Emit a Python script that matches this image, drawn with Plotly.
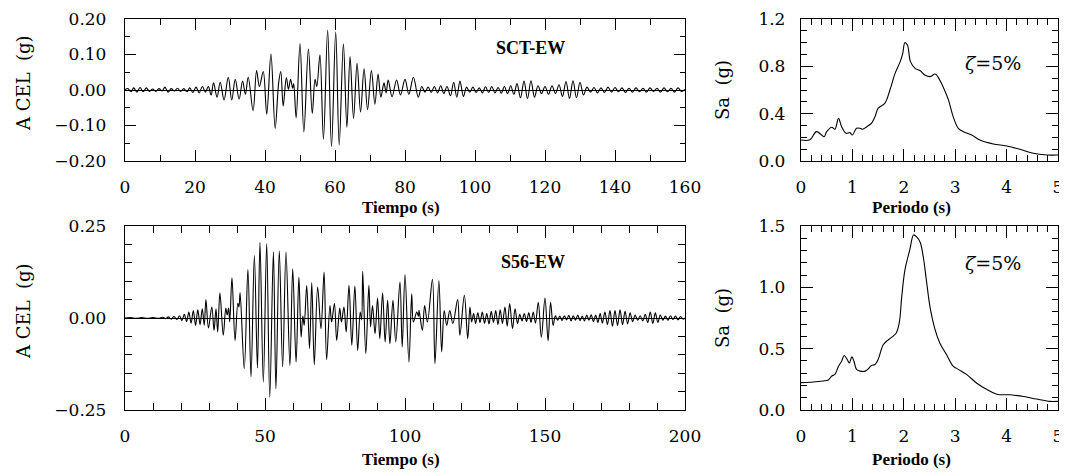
import plotly.graph_objects as go

# ---------------- data ----------------
# SCT-EW acceleration history (time s, accel g) (extrema)
sct_t = [0.0, 0.8, 1.7, 2.5, 3.4, 4.3, 5.2, 6.1, 7.0, 7.9, 8.8, 9.7, 10.6, 11.4, 12.3, 13.2, 14.1, 15.0,
         15.9, 16.8, 17.7, 18.5, 19.4, 20.3, 21.2, 22.1, 23.0, 23.8, 24.6, 25.3, 26.3, 27.2, 28.3, 29.5,
         30.5, 31.5, 32.6, 33.6, 34.4, 35.2, 36.6, 37.6, 38.4, 39.5, 40.5, 41.7, 42.9, 43.9, 44.5, 45.2,
         46.1, 46.7, 47.3, 47.9, 48.2, 48.9, 50.0, 51.1, 52.4, 53.5, 54.3, 54.8, 55.7, 56.7, 57.9, 59.0,
         60.2, 61.2, 62.4, 63.4, 64.3, 65.3, 66.3, 67.3, 68.3, 69.3, 70.4, 71.4, 72.3, 73.1, 74.0, 74.6,
         75.2, 76.3, 77.6, 78.7, 80.0, 81.1, 82.4, 83.8, 84.8, 85.7, 86.6, 87.5, 88.4, 89.3, 90.2, 91.1,
         92.0, 93.0, 93.9, 94.8, 95.7, 96.7, 97.6, 98.5, 99.4, 100.3, 101.2, 102.1, 103.0, 103.9, 104.8,
         105.7, 106.6, 107.5, 108.4, 109.3, 110.2, 111.1, 112.0, 113.0, 114.0, 115.0, 116.0, 117.0, 118.0,
         119.0, 120.0, 121.0, 122.0, 123.0, 124.0, 125.0, 126.0, 127.0, 128.0, 129.0, 130.0, 131.0, 132.0,
         133.0, 134.0, 135.0, 136.0, 137.0, 138.0, 139.0, 140.0, 141.0, 142.0, 143.0, 144.0, 145.0, 146.0,
         147.0, 148.0, 149.0, 150.0, 151.0, 152.0, 153.0, 154.0, 155.0, 156.0, 157.0, 158.0, 159.0, 160.0]
sct_a = [0.000, 0.004, -0.005, 0.006, -0.006, 0.007, -0.005, 0.006, -0.004, 0.003, -0.004, 0.004, -0.003,
         0.008, -0.006, 0.004, -0.003, 0.005, -0.004, 0.004, -0.005, 0.006, -0.007, 0.008, -0.008, 0.010,
         -0.006, 0.010, -0.014, 0.020, -0.020, 0.022, -0.028, 0.036, -0.028, 0.030, -0.026, 0.025, -0.012,
         0.036, -0.058, 0.055, 0.010, 0.052, -0.068, 0.101, -0.108, 0.020, 0.052, -0.045, 0.035, 0.002,
         0.030, 0.005, 0.018, -0.078, 0.131, -0.118, 0.115, -0.066, 0.030, 0.010, 0.099, -0.139, 0.169,
         -0.160, 0.164, -0.155, 0.130, -0.105, 0.094, -0.080, 0.075, -0.062, 0.060, -0.055, 0.055, -0.040,
         0.045, -0.020, 0.020, -0.008, 0.028, -0.019, 0.028, -0.014, 0.030, -0.012, 0.036, -0.020, 0.010,
         -0.006, 0.008, -0.007, 0.010, -0.008, 0.012, -0.010, 0.010, -0.016, 0.022, -0.020, 0.025, -0.018,
         0.008, -0.006, 0.008, -0.007, 0.006, -0.008, 0.009, -0.007, 0.010, -0.008, 0.007, -0.009, 0.010,
         -0.010, 0.012, -0.012, 0.018, -0.022, 0.025, -0.024, 0.026, -0.020, 0.012, -0.010, 0.010, -0.012,
         0.012, -0.010, 0.015, -0.018, 0.024, -0.024, 0.026, -0.022, 0.022, -0.014, 0.008, -0.006, 0.007,
         -0.008, 0.006, -0.007, 0.008, -0.006, 0.007, -0.005, 0.006, -0.007, 0.005, -0.006, 0.006, -0.005,
         0.005, -0.006, 0.006, -0.004, 0.005, -0.006, 0.006, -0.005, 0.005, -0.006, 0.006, -0.004, 0.002]

# S56-EW acceleration history (time s, accel g)
s56_t = [0.0, 2.0, 4.0, 6.0, 8.0, 10.0, 12.0, 13.5, 14.5, 15.5, 16.5, 17.5, 18.5, 19.5, 20.3, 21.2, 22.0,
         22.8, 23.6, 24.4, 25.2, 26.0, 26.8, 27.6, 28.3, 28.9, 29.8, 31.0, 31.8, 32.5, 33.1, 33.9, 35.1,
         36.0, 36.5, 37.0, 37.4, 38.2, 39.3, 40.3, 40.7, 41.1, 42.6, 43.9, 45.0, 46.2, 47.3, 48.2, 49.4,
         50.6, 51.7, 53.0, 53.9, 55.1, 56.3, 57.5, 58.9, 59.9, 61.1, 62.1, 62.9, 63.5, 64.0, 64.9, 65.9,
         66.7, 67.6, 68.8, 70.0, 71.1, 72.0, 73.2, 73.8, 74.8, 75.6, 76.7, 77.3, 78.2, 79.0, 80.0, 81.0,
         82.1, 83.1, 84.0, 84.5, 84.9, 86.0, 87.1, 87.7, 88.4, 89.3, 90.2, 91.0, 92.0, 92.9, 93.8, 94.6,
         95.7, 96.7, 98.2, 99.0, 100.0, 101.4, 102.4, 103.0, 104.2, 104.8, 105.0, 106.2, 107.0, 108.0,
         109.8, 110.7, 112.1, 113.1, 114.0, 114.9, 116.0, 117.1, 118.8, 119.6, 121.2, 122.4, 123.2, 123.8,
         124.5, 125.2, 126.0, 126.8, 127.6, 128.4, 129.2, 130.0, 130.8, 131.6, 132.4, 133.2, 134.0, 134.8,
         135.7, 136.5, 137.4, 138.4, 139.3, 140.2, 141.0, 141.8, 142.6, 143.4, 144.2, 145.0, 145.8, 146.6,
         147.6, 148.7, 150.0, 151.1, 152.0, 152.9, 153.7, 154.5, 155.3, 156.1, 156.9, 157.7, 158.5, 159.3,
         160.1, 160.9, 161.7, 162.5, 163.3, 164.1, 164.9, 165.7, 166.5, 167.3, 168.1, 168.9, 169.7, 170.5,
         171.4, 172.3, 173.2, 174.1, 175.0, 175.9, 176.8, 177.7, 178.6, 179.5, 180.4, 181.3, 182.2, 183.1,
         184.0, 184.9, 185.8, 186.7, 187.6, 188.5, 189.4, 190.3, 191.2, 192.1, 193.0, 193.9, 194.8, 195.7,
         196.6, 197.5, 198.4, 199.3, 200.0]
s56_a = [0.000, 0.001, -0.001, 0.001, -0.001, 0.001, -0.001, 0.002, -0.002, 0.003, -0.003, 0.004, -0.004,
         0.006, -0.007, 0.010, -0.010, 0.016, -0.014, 0.020, -0.020, 0.022, -0.018, 0.025, -0.020, 0.050,
         -0.027, 0.030, -0.034, 0.025, -0.038, 0.068, -0.047, 0.027, 0.008, 0.027, -0.010, 0.109, -0.061,
         0.040, 0.030, 0.069, -0.138, 0.132, -0.160, 0.170, -0.136, 0.205, -0.174, 0.202, -0.215, 0.179,
         -0.192, 0.182, -0.133, 0.179, -0.129, 0.134, -0.120, 0.111, -0.052, 0.005, -0.020, 0.088, -0.083,
         0.096, -0.127, 0.084, -0.029, 0.125, -0.113, 0.034, -0.011, 0.039, -0.061, 0.027, -0.011, 0.030,
         -0.038, 0.089, -0.074, 0.087, -0.088, 0.016, -0.005, 0.127, -0.097, 0.089, -0.024, 0.034, -0.043,
         0.054, -0.056, 0.068, -0.065, 0.048, -0.070, 0.048, -0.065, 0.098, -0.079, 0.118, -0.120, 0.066,
         -0.011, 0.016, 0.005, 0.021, -0.034, 0.034, -0.011, 0.105, -0.124, 0.102, -0.092, 0.020, -0.020,
         0.020, -0.015, 0.050, -0.047, 0.062, -0.056, 0.030, -0.011, 0.012, -0.015, 0.014, -0.012, 0.016,
         -0.014, 0.012, -0.016, 0.018, -0.012, 0.020, -0.018, 0.022, -0.015, 0.030, -0.022, 0.039, -0.029,
         0.025, -0.015, 0.010, -0.008, 0.012, -0.010, 0.014, -0.012, 0.016, -0.014, 0.043, -0.052, 0.054,
         -0.062, 0.043, -0.020, 0.006, -0.006, 0.005, -0.007, 0.006, -0.005, 0.007, -0.008, 0.006, -0.006,
         0.008, -0.007, 0.005, -0.008, 0.008, -0.006, 0.009, -0.010, 0.008, -0.012, 0.012, -0.014, 0.016,
         -0.018, 0.020, -0.022, 0.020, -0.020, 0.022, -0.018, 0.018, -0.016, 0.014, -0.010, 0.008, -0.006,
         0.006, -0.008, 0.010, -0.012, 0.016, -0.015, 0.014, -0.012, 0.008, -0.006, 0.005, -0.006, 0.006,
         -0.004, 0.005, -0.005, 0.004, -0.003, 0.000]

# Response spectra (period s, Sa g)
sct_T = [0.0, 0.175, 0.3, 0.4, 0.45, 0.5, 0.6, 0.66, 0.73, 0.79, 0.875, 0.95, 1.0, 1.08, 1.15, 1.2, 1.28,
         1.37, 1.44, 1.5, 1.63, 1.73, 1.83, 1.93, 1.98, 2.02, 2.07, 2.13, 2.22, 2.32, 2.41, 2.51, 2.61,
         2.67, 2.77, 2.87, 2.96, 3.06, 3.16, 3.32, 3.48, 3.74, 4.0, 4.26, 4.52, 4.78, 5.0]
sct_Sa = [0.177, 0.18, 0.248, 0.22, 0.205, 0.248, 0.285, 0.268, 0.36, 0.29, 0.234, 0.24, 0.22, 0.276,
          0.276, 0.268, 0.29, 0.318, 0.375, 0.445, 0.487, 0.6, 0.74, 0.84, 0.91, 1.0, 0.98, 0.84, 0.783,
          0.763, 0.727, 0.713, 0.735, 0.707, 0.622, 0.515, 0.375, 0.276, 0.248, 0.22, 0.177, 0.144, 0.127,
          0.099, 0.065, 0.051, 0.051]
s56_T = [0.0, 0.24, 0.43, 0.53, 0.6, 0.66, 0.73, 0.79, 0.84, 0.9, 0.94, 0.99, 1.03, 1.08, 1.15, 1.25,
         1.31, 1.37, 1.44, 1.5, 1.6, 1.7, 1.8, 1.85, 1.91, 1.96, 2.02, 2.12, 2.19, 2.25, 2.32, 2.38, 2.44,
         2.51, 2.61, 2.7, 2.83, 2.96, 3.06, 3.22, 3.42, 3.61, 3.81, 4.07, 4.33, 4.58, 4.84, 5.0]
s56_Sa = [0.223, 0.228, 0.237, 0.245, 0.277, 0.29, 0.357, 0.398, 0.444, 0.411, 0.384, 0.433, 0.398,
          0.331, 0.317, 0.317, 0.336, 0.363, 0.371, 0.411, 0.532, 0.573, 0.605, 0.626, 0.707, 0.922,
          1.137, 1.312, 1.427, 1.411, 1.366, 1.245, 1.056, 0.841, 0.653, 0.546, 0.452, 0.358, 0.331,
          0.29, 0.218, 0.169, 0.129, 0.124, 0.11, 0.089, 0.07, 0.07]

# ---------------- layout helpers ----------------
# The page body has an 8 px margin: the figure starts at (8, 8) in the window and is
# sized to reach the window's right and bottom edges. Positions are in window pixels.
WIN_W, WIN_H = 1067, 472
OFF = 8
W, H = WIN_W - OFF, WIN_H - OFF


def xdom(l, r):
    return [(l - OFF) / W, (r - OFF) / W]


def ydom(t, b):
    return [1 - (b - OFF) / H, 1 - (t - OFF) / H]


SERIF = "DejaVu Serif"
BOLD = "Liberation Serif"

fig = go.Figure()
lstyle = dict(color="black", width=1.1, shape="spline", smoothing=1.0)
fig.add_trace(go.Scatter(x=sct_t, y=sct_a, mode="lines", line=lstyle, xaxis="x", yaxis="y"))
fig.add_trace(go.Scatter(x=sct_T, y=sct_Sa, mode="lines", line=lstyle, xaxis="x2", yaxis="y2"))
fig.add_trace(go.Scatter(x=s56_t, y=s56_a, mode="lines", line=lstyle, xaxis="x3", yaxis="y3"))
fig.add_trace(go.Scatter(x=s56_T, y=s56_Sa, mode="lines", line=lstyle, xaxis="x4", yaxis="y4"))


def axis(domain, rng, dtick, ticklen, mdtick, mlen, anchor, fmt=None, standoff=8, zero=False):
    d = dict(domain=domain, range=rng, dtick=dtick, tick0=0, ticks="inside", ticklen=ticklen,
             tickwidth=1.2, tickcolor="black", showline=True, linecolor="black", linewidth=1.3,
             mirror="ticks", showgrid=False, zeroline=zero, zerolinecolor="black", zerolinewidth=1,
             anchor=anchor, ticklabelstandoff=standoff, automargin=False, ticklabeloverflow="allow",
             tickfont=dict(family=SERIF, size=17, color="black"),
             minor=dict(dtick=mdtick, tick0=0, ticks="inside", ticklen=mlen, tickwidth=1.1,
                        tickcolor="black", showgrid=False))
    if fmt:
        d["tickformat"] = fmt
    return d


TL_x, TL_y = xdom(125, 685), ydom(19, 161)
TR_x, TR_y = xdom(801, 1058), ydom(19, 161)
BL_x, BL_y = xdom(125, 685), ydom(226, 410)
BR_x, BR_y = xdom(801, 1058), ydom(226, 410)

fig.update_layout(
    width=W, height=H, autosize=False, showlegend=False,
    margin=dict(l=0, r=0, t=0, b=0, pad=0, autoexpand=False),
    paper_bgcolor="white", plot_bgcolor="white",
    xaxis=axis(TL_x, [0, 160], 20, 11, 10, 6, "y", standoff=10),
    yaxis=axis(TL_y, [-0.2, 0.2], 0.1, 11, 0.05, 5, "x", fmt=".2f", standoff=14, zero=True),
    xaxis2=axis(TR_x, [0, 5], 1, 12, 0.2, 6, "y2", standoff=10),
    yaxis2=axis(TR_y, [0, 1.2], 0.4, 12, 0.1, 6, "x2", fmt=".1f", standoff=11),
    xaxis3=axis(BL_x, [0, 200], 50, 12, 10, 7, "y3", standoff=10),
    yaxis3=axis(BL_y, [-0.25, 0.25], 0.25, 7, 0.05, 7, "x3", fmt=".2f", standoff=14, zero=True),
    xaxis4=axis(BR_x, [0, 5], 1, 12, 0.2, 6, "y4", standoff=10),
    yaxis4=axis(BR_y, [0, 1.5], 0.5, 12, 0.1, 6, "x4", fmt=".1f", standoff=11),
)


def ann(text, x, y, family, size, angle=0):
    fig.add_annotation(text=text, x=(x - OFF) / W, y=1 - (y - OFF) / H, xref="paper", yref="paper",
                       showarrow=False, textangle=angle, xanchor="center", yanchor="middle",
                       font=dict(family=family, size=size, color="black"))


ann("A CEL  (g)", 23, 83, SERIF, 18, -90)
ann("A CEL  (g)", 23, 311, SERIF, 18, -90)
ann("Sa  (g)", 722, 90, SERIF, 18, -90)
ann("Sa  (g)", 722, 318, SERIF, 18, -90)
ann("<b>Tiempo (s)</b>", 401, 207, BOLD, 17)
ann("<b>Tiempo (s)</b>", 401, 459, BOLD, 17)
ann("<b>Periodo (s)</b>", 911, 207, BOLD, 17)
ann("<b>Periodo (s)</b>", 911, 459, BOLD, 17)
ann("<b>SCT-EW</b>", 530, 48, BOLD, 18)
ann("<b>S56-EW</b>", 533, 262, BOLD, 18)
ann("<i>ζ</i>=5%", 993, 63, SERIF, 19)
ann("<i>ζ</i>=5%", 993, 263, SERIF, 19)

fig.write_html("out.html")
